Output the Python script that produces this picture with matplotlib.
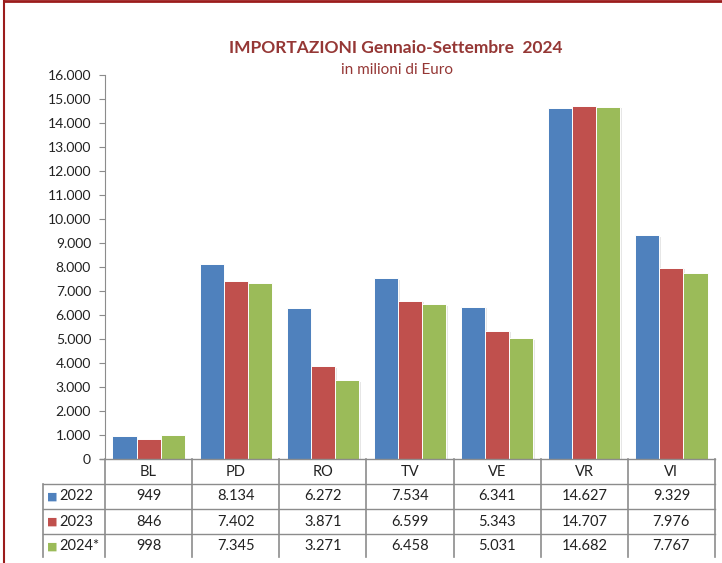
import numpy as np
import matplotlib.pyplot as plt
from matplotlib import transforms
from matplotlib.lines import Line2D
import matplotlib.patheffects as pe

plt.rcParams["font.family"] = ["Lato", "DejaVu Sans"]

# data
provinces = ["BL", "PD", "RO", "TV", "VE", "VR", "VI"]
years = ["2022", "2023", "2024*"]
vals_2022 = [949, 8134, 6272, 7534, 6341, 14627, 9329]
vals_2023 = [846, 7402, 3871, 6599, 5343, 14707, 7976]
vals_2024 = [998, 7345, 3271, 6458, 5031, 14682, 7767]
colors = ["#4F81BD", "#C0504D", "#9BBB59"]

W, H = 722, 563


def fx(px):
    return px / W


def fy(py):
    return 1 - py / H


def fmt(v):
    return f"{v:,}".replace(",", ".")


fig = plt.figure(figsize=(7.22, 5.63), dpi=100)
ax = fig.add_axes([fx(105), fy(459), fx(715) - fx(105), fy(75) - fy(459)])

x = np.arange(len(provinces))
w = 0.276
shadow = [pe.SimplePatchShadow(offset=(1.2, -1.2), shadow_rgbFace="#b8b8b8", alpha=0.35), pe.Normal()]
for i, vals in enumerate([vals_2022, vals_2023, vals_2024]):
    bars = ax.bar(x + (i - 1) * w, vals, w, color=colors[i], edgecolor="white", linewidth=0.7, zorder=3)
    for b in bars:
        b.set_path_effects(shadow)

ax.set_xlim(-0.5, len(provinces) - 0.5)
ax.set_ylim(0, 16000)
ax.set_yticks(np.arange(0, 16001, 1000))
ax.set_yticklabels([fmt(v) for v in range(0, 16001, 1000)], fontsize=10, color="#222222")
ax.set_xticks([])
for s in ["top", "right", "bottom"]:
    ax.spines[s].set_visible(False)
ax.spines["left"].set_color("#8c8c8c")
ax.tick_params(axis="y", length=4, color="#8c8c8c", pad=6)

# data table under the plot
grid = "#8c8c8c"
trans = transforms.blended_transform_factory(ax.transData, fig.transFigure)
row_y = [459, 484, 509, 534, 559]
for py in row_y[:-1]:
    left = fx(100) if py == 459 else fx(43)
    fig.add_artist(Line2D([left, fx(715)], [fy(py), fy(py)], color=grid, lw=1.0))
for k in range(len(provinces) + 1):
    fig.add_artist(Line2D([k - 0.5, k - 0.5], [fy(459), fy(557)], color=grid, lw=1.2,
                          transform=trans))
fig.add_artist(Line2D([fx(43), fx(43)], [fy(484), fy(557)], color=grid, lw=1.2))

for k, p in enumerate(provinces):
    ax.text(k, fy(472), p, transform=trans, ha="center", va="center", fontsize=10.5, color="#222222")
for r, (yr, vals) in enumerate(zip(years, [vals_2022, vals_2023, vals_2024])):
    cy = fy((row_y[r + 1] + row_y[r + 2]) / 2)
    fig.text(fx(47), cy, "\u25A0", color=colors[r], ha="left", va="center", fontsize=8,
             family="DejaVu Sans")
    fig.text(fx(59), cy, yr, ha="left", va="center", fontsize=10.5, color="#222222")
    for k, v in enumerate(vals):
        ax.text(k, cy, fmt(v), transform=trans, ha="center", va="center", fontsize=10.5,
                color="#222222")

fig.text(fx(396), fy(48), "IMPORTAZIONI Gennaio-Settembre  2024", ha="center", va="center",
         fontsize=12.5, fontweight="bold", color="#953735")
fig.text(fx(397), fy(70), "in milioni di Euro", ha="center", va="center", fontsize=11,
         color="#953735")

# frame edges visible at the top and left
fig.add_artist(Line2D([fx(4), fx(4)], [0, fy(1)], color="#9b1c1c", lw=1.5))
fig.add_artist(Line2D([fx(4), 1], [fy(1), fy(1)], color="#9b1c1c", lw=2))

fig.savefig("out.png", dpi=100)
